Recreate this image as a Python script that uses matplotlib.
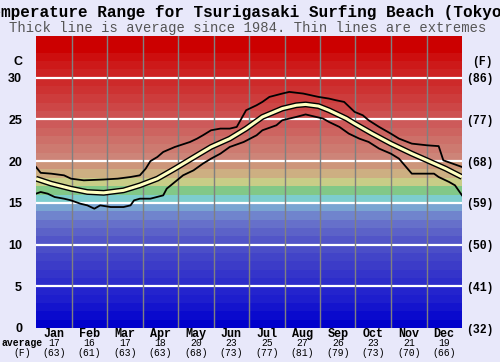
import numpy as np
import matplotlib
matplotlib.use("Agg")
import matplotlib.pyplot as plt
import matplotlib.transforms as mtransforms

# data (day of year, deg C)
max_days = [0, 4, 13, 24, 30, 41, 58, 70, 81, 89, 94, 98, 104, 109, 119, 132, 138, 143, 150, 158,
            166, 172, 176, 180, 189, 194, 200, 211, 217, 229, 242, 251, 257, 264, 270, 273, 280,
            285, 294, 304, 311, 322, 335, 345, 349, 357, 365]
max_temp = [19.3, 18.6, 18.5, 18.3, 17.9, 17.7, 17.8, 17.9, 18.1, 18.3, 19.1, 20.0, 20.5, 21.1,
            21.7, 22.3, 22.7, 23.1, 23.7, 23.9, 23.9, 24.1, 25.1, 26.1, 26.7, 27.1, 27.7, 28.1,
            28.3, 28.1, 27.7, 27.5, 27.3, 27.1, 26.3, 25.9, 25.5, 24.9, 24.1, 23.3, 22.7, 22.1,
            21.9, 21.8, 20.1, 19.7, 19.3]

min_days = [0, 4, 10, 16, 24, 30, 38, 44, 50, 55, 64, 75, 81, 84, 89, 98, 109, 112, 119, 126,
            135, 143, 150, 158, 166, 178, 189, 194, 206, 211, 223, 231, 240, 246, 251, 260, 268,
            277, 285, 294, 304, 311, 322, 335, 341, 345, 354, 359, 365]
min_temp = [16.1, 16.3, 16.1, 15.7, 15.5, 15.3, 14.9, 14.7, 14.3, 14.7, 14.5, 14.5, 14.7, 15.3,
            15.5, 15.5, 15.9, 16.7, 17.5, 18.3, 18.9, 19.7, 20.3, 20.9, 21.7, 22.3, 23.1, 23.7,
            24.3, 24.9, 25.3, 25.6, 25.3, 25.1, 24.7, 24.1, 23.3, 22.7, 22.3, 21.5, 20.9, 20.3,
            18.5, 18.5, 18.5, 18.1, 17.5, 17.1, 15.9]

avg_days = [0, 13, 30, 44, 58, 75, 89, 104, 119, 138, 150, 166, 180, 194, 211, 223, 231, 242,
            251, 266, 273, 288, 304, 322, 335, 351, 365]
avg_temp = [17.9, 17.3, 16.7, 16.3, 16.2, 16.5, 17.1, 17.9, 19.1, 20.7, 21.7, 22.7, 23.9, 25.3,
            26.3, 26.7, 26.8, 26.6, 26.1, 25.1, 24.5, 23.3, 22.1, 20.9, 20.1, 19.1, 18.1]

months = ["Jan", "Feb", "Mar", "Apr", "May", "Jun", "Jul", "Aug", "Sep", "Oct", "Nov", "Dec"]
month_avg_c = [17, 16, 17, 18, 20, 23, 25, 27, 26, 23, 21, 19]
month_avg_f = [63, 61, 63, 63, 68, 73, 77, 81, 79, 73, 70, 66]

c_ticks = [0, 5, 10, 15, 20, 25, 30]
f_labels = ["(32)", "(41)", "(50)", "(59)", "(68)", "(77)", "(86)"]

# colour of each 1 degree band, from 0 upwards
bands = [(0, 0, 204), (10, 10, 205), (20, 20, 205), (30, 30, 205), (36, 36, 205), (45, 45, 202),
         (52, 52, 202), (60, 60, 200), (66, 68, 200), (75, 78, 200), (82, 85, 200), (92, 98, 200),
         (102, 112, 202), (112, 132, 205), (122, 165, 210), (125, 205, 205), (130, 200, 135),
         (200, 205, 135), (205, 175, 130), (205, 150, 122), (205, 132, 120), (205, 122, 112),
         (205, 112, 105), (205, 100, 96), (205, 90, 90), (205, 80, 80), (205, 70, 70),
         (205, 60, 60), (205, 50, 50), (205, 42, 42), (205, 34, 34), (205, 25, 25),
         (205, 14, 14), (204, 0, 0), (204, 0, 0)]

bg = "#e8e8fa"
mono = "Liberation Mono"

fig = plt.figure(figsize=(5, 3.62), dpi=100, facecolor=bg)
ax = fig.add_axes([36 / 500, 1 - 328 / 362, 426 / 500, 292 / 362])

for i, c in enumerate(bands):
    ax.axhspan(i, i + 1, color=np.array(c) / 255.0, lw=0, zorder=0)

for t in c_ticks[1:]:
    ax.axhline(t, color="white", lw=1.6, zorder=1)
month_len = 365 / 12.0
for m in range(1, 12):
    ax.axvline(m * month_len, color="#808080", lw=1, zorder=1)

ax.plot(max_days, max_temp, color="black", lw=1.3, zorder=3)
ax.plot(min_days, min_temp, color="black", lw=1.3, zorder=3)
ax.plot(avg_days, avg_temp, color="black", lw=4.2, zorder=4, solid_capstyle="butt")
ax.plot(avg_days, avg_temp, color="#ffffc0", lw=2.2, zorder=5, solid_capstyle="butt")

ax.set_xlim(0, 365)
ax.set_ylim(0, 35)
for s in ax.spines.values():
    s.set_visible(False)
ax.set_xticks([])
ax.set_yticks(c_ticks)
ax.set_yticklabels([str(t) for t in c_ticks], fontfamily="Liberation Sans",
                   fontweight="bold", fontsize=9)
ax.tick_params(axis="y", length=0, pad=10)

ax2 = ax.twinx()
ax2.set_ylim(0, 35)
for s in ax2.spines.values():
    s.set_visible(False)
ax2.set_yticks(c_ticks)
ax2.set_yticklabels(f_labels, fontfamily=mono, fontweight="bold", fontsize=8.3)
ax2.tick_params(axis="y", length=0, pad=3)

fig.text(18 / 500, 1 - 62 / 362, "C", fontfamily="Liberation Sans", fontweight="bold",
         fontsize=9, ha="center", va="center")
fig.text(482 / 500, 1 - 62 / 362, "(F)", fontfamily=mono, fontweight="bold",
         fontsize=8.3, ha="center", va="center")

# month labels under the plot
trans = mtransforms.blended_transform_factory(ax.transData, fig.transFigure)
for i, name in enumerate(months):
    xc = (i + 0.5) * month_len
    ax.text(xc, 1 - 334 / 362, name, transform=trans, fontfamily=mono, fontweight="bold",
            fontsize=8.5, ha="center", va="center")
    ax.text(xc, 1 - 343.5 / 362, str(month_avg_c[i]), transform=trans, fontfamily=mono,
            fontsize=7, ha="center", va="center")
    ax.text(xc, 1 - 353 / 362, "(%d)" % month_avg_f[i], transform=trans, fontfamily=mono,
            fontsize=7, ha="center", va="center")
fig.text(22 / 500, 1 - 343.5 / 362, "average", fontfamily=mono, fontweight="bold",
         fontsize=7, ha="center", va="center")
fig.text(22 / 500, 1 - 353 / 362, "(F)", fontfamily=mono, fontsize=7, ha="center", va="center")

fig.text(-76 / 500, 1 - 13 / 362, "Water Temperature Range for Tsurigasaki Surfing Beach (Tokyo)",
         fontfamily=mono, fontweight="bold", fontsize=11.5, ha="left", va="center")
fig.text(248 / 500, 1 - 28 / 362, "Thick line is average since 1984. Thin lines are extremes",
         fontfamily=mono, fontsize=10, color="#555555", ha="center", va="center")

fig.savefig("out.png", dpi=100, facecolor=bg)
